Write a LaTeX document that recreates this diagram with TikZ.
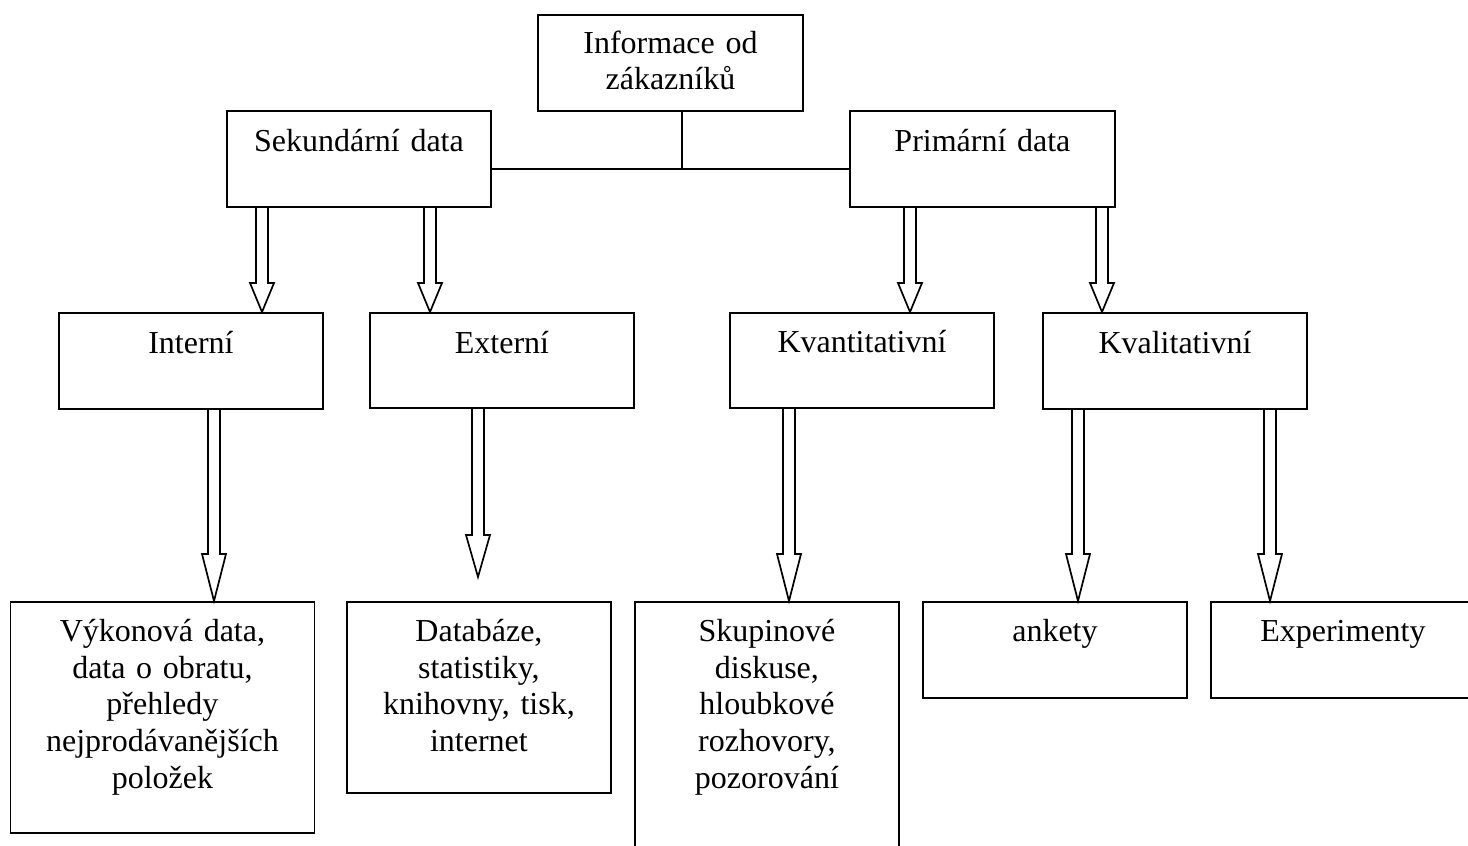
\documentclass[tikz,border=0pt]{standalone}
\usepackage{fontspec}
\setmainfont{Liberation Serif}
\usetikzlibrary{calc}
\tikzset{
  box/.style={draw, line width=1.9pt, rectangle, inner sep=0pt, anchor=north west},
  txt/.style={font=\fontsize{32}{36.8}\selectfont, inner sep=0pt, align=center, text width=300pt, anchor=base},
  conn/.style={line width=1.7pt},
  barrow/.style={line width=1.7pt, line join=miter},
}
\newcommand\boxat[5]{% name, left, top, right, bottom
  \node[box, minimum width={#4pt-#2pt}, minimum height={#5pt-#3pt}] (#1) at (#2,#3) {};}
\newcommand\blockarrow[4]{% x centre, from anchor, to anchor, head length
  \path (#1,0) coordinate (bax);
  \draw[barrow] let \p1=(#2 -| bax), \p2=(#3 -| bax) in
    (\x1-6pt,\y1) -- (\x1-6pt,\y2+#4pt) -- (\x1-12pt,\y2+#4pt) -- (\x2,\y2)
    -- (\x1+12pt,\y2+#4pt) -- (\x1+6pt,\y2+#4pt) -- (\x1+6pt,\y1);}
\begin{document}
\begin{tikzpicture}[x=1pt,y=-1pt]
\useasboundingbox (0,0) rectangle (1468,846);
\clip (0,0) rectangle (1468,846);
% boxes
\boxat{inf}{537}{14}{802}{110}
\boxat{sek}{226}{110}{490}{206}
\boxat{prim}{849}{110}{1114}{206}
\boxat{int}{58}{312}{322}{408}
\boxat{ext}{369}{312}{633}{407}
\boxat{kvant}{729}{312}{993}{407}
\boxat{kval}{1042}{312}{1306}{408}
\boxat{vyk}{9.5}{601}{313.5}{832}
\boxat{db}{346}{601}{610}{792}
\boxat{skup}{634}{601}{898}{870}
\boxat{ank}{922}{601}{1186}{697}
\boxat{exp}{1210}{601}{1474}{697}
% texts
\node[txt] (inf-t) at ($(inf.north)+(0,39)$) {Informace od\\zákazníků};
\node[txt] (sek-t) at ($(sek.north)+(0,41.7)$) {Sekundární data};
\node[txt] (prim-t) at ($(prim.north)+(0,41.7)$) {Primární data};
\node[txt] (int-t) at ($(int.north)+(0,41.5)$) {Interní};
\node[txt] (ext-t) at ($(ext.north)+(0,41)$) {Externí};
\node[txt] (kvant-t) at ($(kvant.north)+(0,40.5)$) {Kvantitativní};
\node[txt] (kval-t) at ($(kval.north)+(0,41)$) {Kvalitativní};
\node[txt] (vyk-t) at ($(vyk.north)+(0,40.3)$) {Výkonová data,\\data o obratu,\\přehledy\\nejprodávanějších\\položek};
\node[txt] (db-t) at ($(db.north)+(0,40.3)$) {Databáze,\\statistiky,\\knihovny, tisk,\\internet};
\node[txt] (skup-t) at ($(skup.north)+(0,40.3)$) {Skupinové\\diskuse,\\hloubkové\\rozhovory,\\pozorování};
\node[txt] (ank-t) at ($(ank.north)+(0,40.3)$) {ankety};
\node[txt] (exp-t) at ($(exp.north)+(0,40.3)$) {Experimenty};
% tree connector
\coordinate (jn) at (682,168.7);
\draw[conn] (inf.south -| jn) -- (jn);
\draw[conn] (sek.east |- jn) -- (prim.west |- jn);
% block arrows
\blockarrow{262}{sek.south}{int.north}{29}
\blockarrow{430}{sek.south}{ext.north}{29}
\blockarrow{910}{prim.south}{kvant.north}{29}
\blockarrow{1102}{prim.south}{kval.north}{29}
\blockarrow{214}{int.south}{vyk.north}{47}
\coordinate (dbtip) at (478,577);
\blockarrow{478}{ext.south}{dbtip}{42}
\blockarrow{789}{kvant.south}{skup.north}{47}
\blockarrow{1078}{kval.south}{ank.north}{47}
\blockarrow{1270}{kval.south}{exp.north}{47}
\end{tikzpicture}
\end{document}
